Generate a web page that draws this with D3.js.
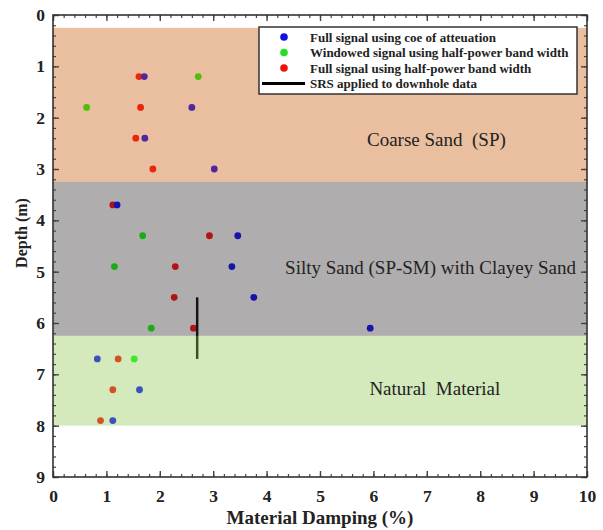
<!DOCTYPE html>
<html>
<head>
<meta charset="utf-8">
<script src="https://cdn.jsdelivr.net/npm/d3@7"></script>
<style>
  body { margin: 0; background: #fff; }
  svg text { font-family: "Liberation Serif", "Times New Roman", serif; }
</style>
</head>
<body>
<svg id="chart" width="603" height="530"></svg>
<script>
// depths where measurements were taken (m)
const depths = [1.2, 1.8, 2.4, 3.0, 3.7, 4.3, 4.9, 5.5, 6.1, 6.7, 7.3, 7.9];

// Material damping (%) per series, null = no point
const coeAttenuation = [1.71, 2.60, 1.72, 3.02, 1.20, 3.46, 3.35, 3.76, 5.94, 0.83, 1.62, 1.12];
const windowedHpbw   = [2.72, 0.63, null, null, null, 1.68, 1.15, null, 1.84, 1.52, null, null];
const fullHpbw       = [1.61, 1.64, 1.55, 1.87, 1.12, 2.93, 2.29, 2.27, 2.63, 1.22, 1.12, 0.89];

// SRS on downhole data: vertical segment
const srsDamping = 2.7;
const srsDepths = [5.5, 6.7];

// soil layers
const layerNames = ["Coarse Sand  (SP)", "Silty Sand (SP-SM) with Clayey Sand", "Natural  Material"];
const layerTop = [0.25, 3.25, 6.25];
const layerBottom = [3.25, 6.25, 8.0];

const seriesNames = [
  "Full signal using coe of atteuation",
  "Windowed signal using half-power band width",
  "Full signal using half-power band width",
  "SRS applied to downhole data"
];

const xTicks = [0, 1, 2, 3, 4, 5, 6, 7, 8, 9, 10];
const yTicks = [0, 1, 2, 3, 4, 5, 6, 7, 8, 9];

const margin = { top: 15, right: 16, bottom: 53, left: 53 };
const width = 603 - margin.left - margin.right;
const height = 530 - margin.top - margin.bottom;

const svg = d3.select("#chart");
const g = svg.append("g")
  .attr("transform", "translate(" + margin.left + "," + margin.top + ")");

const x = d3.scaleLinear().domain([0, 10]).range([0, width]);
const y = d3.scaleLinear().domain([0, 9]).range([0, height]);

// points first, layers are laid over them semi-transparent (like the original)
const series = [
  { vals: fullHpbw, color: "#ff0000" },
  { vals: windowedHpbw, color: "#00ff00" },
  { vals: coeAttenuation, color: "#0000ff" }
];

series.forEach((s) => {
  const pts = depths.map((d, i) => ({ d: d, v: s.vals[i] })).filter((p) => p.v != null);
  g.selectAll(null)
    .data(pts)
    .enter()
    .append("circle")
    .attr("cx", (p) => x(p.v))
    .attr("cy", (p) => y(p.d))
    .attr("r", 3.4)
    .attr("fill", s.color);
});

g.append("line")
  .attr("x1", x(srsDamping)).attr("x2", x(srsDamping))
  .attr("y1", y(srsDepths[0])).attr("y2", y(srsDepths[1]))
  .attr("stroke", "#000")
  .attr("stroke-width", 2.5);

const layerColors = ["#c85f12", "#3a3234", "#94ca5a"];

g.selectAll(".layer")
  .data(layerNames)
  .enter()
  .append("rect")
  .attr("class", "layer")
  .attr("x", 0)
  .attr("width", width)
  .attr("y", (d, i) => y(layerTop[i]))
  .attr("height", (d, i) => y(layerBottom[i]) - y(layerTop[i]))
  .attr("fill", (d, i) => layerColors[i])
  .attr("fill-opacity", 0.4);

const labelX = [7.18, 7.07, 7.15];
const labelDepth = [2.56, 5.05, 7.41];
g.selectAll(".layer-label")
  .data(layerNames)
  .enter()
  .append("text")
  .attr("class", "layer-label")
  .attr("x", (d, i) => x(labelX[i]))
  .attr("y", (d, i) => y(labelDepth[i]))
  .attr("text-anchor", "middle")
  .attr("fill", "#222")
  .style("font-size", "19px")
  .style("white-space", "pre")
  .text((d) => d);

// axes, ticks pointing inward on all four sides
function addAxis(axisFn, transform, ticks, step, labels, padding) {
  const scale = axisFn === d3.axisBottom || axisFn === d3.axisTop ? x : y;
  const dom = scale.domain();
  const minor = d3.range(dom[0], dom[1] + 0.001, step);
  g.append("g")
    .attr("transform", transform)
    .call(axisFn(scale).tickValues(minor).tickSize(-3).tickFormat(""))
    .call((a) => a.select(".domain").remove())
    .selectAll("line").attr("stroke", "#444").attr("stroke-width", 1.2);
  const major = g.append("g")
    .attr("transform", transform)
    .call(axisFn(scale).tickValues(ticks).tickSize(-6).tickPadding(padding)
      .tickFormat(labels ? d3.format("d") : ""));
  major.select(".domain").remove();
  major.selectAll("line").attr("stroke", "#444").attr("stroke-width", 1.4);
  major.selectAll("text")
    .attr("fill", "#222")
    .style("font-family", "'Liberation Serif', serif")
    .style("font-weight", "bold")
    .style("font-size", "17.5px");
}

addAxis(d3.axisBottom, "translate(0," + height + ")", xTicks, 0.2, true, 13);
addAxis(d3.axisTop, "translate(0,0)", xTicks, 0.2, false, 3);
addAxis(d3.axisLeft, "translate(0,0)", yTicks, 0.2, true, 8);
addAxis(d3.axisRight, "translate(" + width + ",0)", yTicks, 0.2, false, 3);

g.append("rect")
  .attr("width", width)
  .attr("height", height)
  .attr("fill", "none")
  .attr("stroke", "#333")
  .attr("stroke-width", 1.6);

// axis titles
svg.append("text")
  .attr("x", 320)
  .attr("y", 524)
  .attr("text-anchor", "middle")
  .attr("fill", "#222")
  .style("font-weight", "bold")
  .style("font-size", "19px")
  .text("Material Damping (%)");

svg.append("text")
  .attr("transform", "translate(27,233) rotate(-90)")
  .attr("text-anchor", "middle")
  .attr("fill", "#222")
  .style("font-weight", "bold")
  .style("font-size", "16px")
  .text("Depth (m)");

// legend
const legend = svg.append("g").attr("transform", "translate(259,27)");
legend.append("rect")
  .attr("width", 318)
  .attr("height", 67)
  .attr("fill", "#fff")
  .attr("stroke", "#333")
  .attr("stroke-width", 1.5);

const legendColors = ["#1010e8", "#22e022", "#f01010", null];
seriesNames.forEach((name, i) => {
  const ly = 10 + i * 15.5;
  if (legendColors[i]) {
    legend.append("circle")
      .attr("cx", 25).attr("cy", ly).attr("r", 3.8)
      .attr("fill", legendColors[i]);
  } else {
    legend.append("line")
      .attr("x1", 3).attr("x2", 46).attr("y1", ly).attr("y2", ly)
      .attr("stroke", "#000").attr("stroke-width", 3);
  }
  legend.append("text")
    .attr("x", 51)
    .attr("y", ly + 4.5)
    .attr("fill", "#222")
    .style("font-weight", "bold")
    .style("font-size", "13px")
    .text(name);
});
</script>
</body>
</html>
